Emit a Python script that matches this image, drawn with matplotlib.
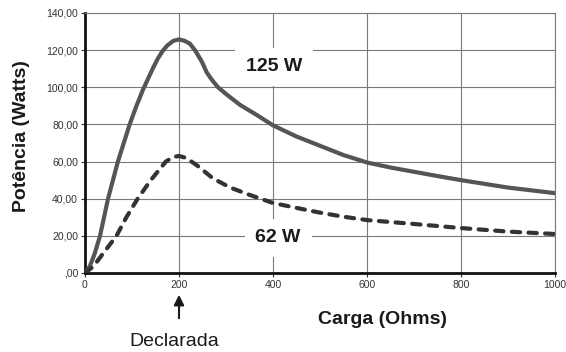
#!/usr/bin/env python3
import matplotlib
matplotlib.use("Agg")
import matplotlib.pyplot as plt

# curva de 125 W (linha cheia)
carga_125 = [0, 10, 20, 32, 49, 70, 95, 108, 123, 144, 155, 165, 175, 188, 200,
             212, 223, 234, 249, 259, 270, 283, 302, 330, 366, 400, 450,
             500, 550, 600, 650, 700, 750, 800, 850, 900, 950, 1000]
pot_125 = [0, 3.5, 10, 20, 40, 60, 80, 89, 98.5, 110, 115.5, 119.5, 122.5, 125, 125.8,
           125, 123.5, 120, 113.6, 108, 104, 100, 96, 90.5, 85, 79.5, 73.5,
           68.5, 63.5, 59.5, 56.8, 54.5, 52.2, 50, 48, 46, 44.5, 43]

# curva de 62 W (tracejada)
carga_62 = [0, 18, 39, 67, 88, 112, 140, 172, 188, 200, 215, 238, 272, 309,
            351, 400, 451, 500, 550, 600, 700, 800, 900, 1000]
pot_62 = [0, 3.6, 10.7, 20, 30, 40, 50, 60, 62.5, 63, 62, 58, 51, 46,
          42, 37.7, 35, 32.5, 30.3, 28.5, 26.4, 24.2, 22.3, 21]

x_ticks = [0, 200, 400, 600, 800, 1000]
y_ticks = [0, 20, 40, 60, 80, 100, 120, 140]
y_ticklabels = [",00", "20,00", "40,00", "60,00", "80,00", "100,00", "120,00", "140,00"]

plt.rcParams['font.family'] = ['Liberation Sans', 'DejaVu Sans']

fig = plt.figure(figsize=(5.66, 3.52), dpi=100)
ax = fig.add_axes([85 / 566, 1 - 273 / 352, 470 / 566, 260 / 352])

ax.plot(carga_125, pot_125, color="#555555", lw=3.0,
        solid_joinstyle="round", solid_capstyle="round", zorder=3)
ax.plot(carga_62, pot_62, color="#333333", lw=3.0, dashes=(2.0, 2.0),
        dash_capstyle="round", dash_joinstyle="round", zorder=3)

ax.set_xlim(0, 1000)
ax.set_ylim(0, 140)
ax.set_xticks(x_ticks)
ax.set_yticks(y_ticks)
ax.set_yticklabels(y_ticklabels)
ax.tick_params(labelsize=7.5, labelcolor="#333333", length=3, width=0.8,
               color="#333333", pad=2)
ax.grid(True, color="#7a7a7a", lw=0.8, zorder=0)
ax.set_axisbelow(True)

for s in ["left", "bottom"]:
    ax.spines[s].set_linewidth(2.0)
    ax.spines[s].set_color("#111111")
for s in ["top", "right"]:
    ax.spines[s].set_linewidth(0.8)
    ax.spines[s].set_color("#7a7a7a")

box = dict(boxstyle="square,pad=0.55", facecolor="white", edgecolor="none")
ax.text(402, 111, "125 W", ha="center", va="center", fontsize=14,
        fontweight="bold", color="#1a1a1a", bbox=box, zorder=2)
ax.text(411, 19, "62 W", ha="center", va="center", fontsize=14,
        fontweight="bold", color="#1a1a1a", bbox=box, zorder=2)

fig.text(22 / 566, 1 - 136 / 352, "Potência (Watts)", rotation=90,
         ha="center", va="center", fontsize=14, fontweight="bold", color="#1a1a1a")
fig.text(382 / 566, 1 - 320 / 352, "Carga (Ohms)", ha="center", va="center",
         fontsize=14, fontweight="bold", color="#1a1a1a")

# seta "Declarada" apontando para 200 ohms
ax.annotate("", xy=(200, 1 - 292 / 352), xycoords=("data", "figure fraction"),
            xytext=(200, 1 - 321 / 352), textcoords=("data", "figure fraction"),
            arrowprops=dict(arrowstyle="-|>,head_length=0.6,head_width=0.3",
                            color="#1a1a1a", lw=1.5))
fig.text(174 / 566, 1 - 342 / 352, "Declarada", ha="center", va="center",
         fontsize=14, color="#1a1a1a")

fig.savefig("out.png", dpi=100)
